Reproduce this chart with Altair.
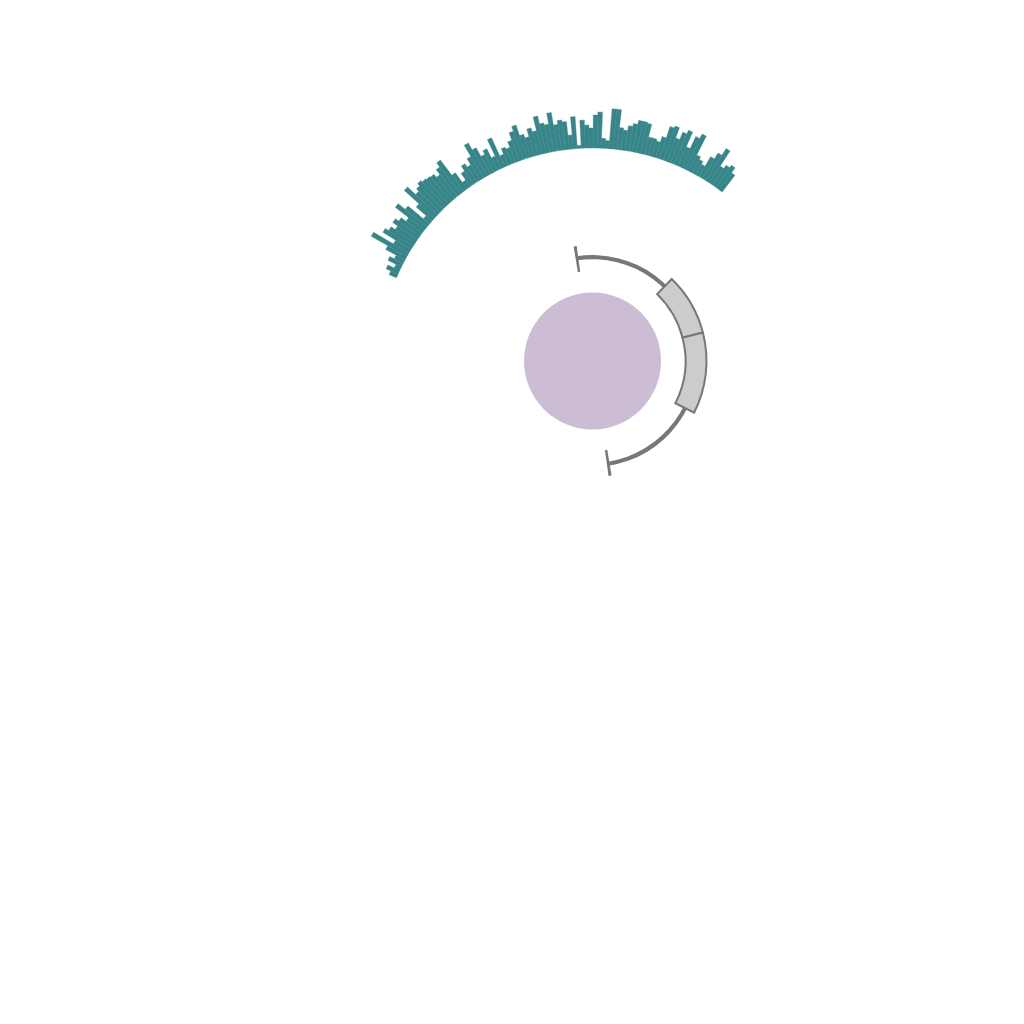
import math
import altair as alt
import pandas as pd

# ---- data ----
# histogram bar heights (pixel-ish units above the inner ring), ordered clockwise
hist_heights = [
    8, 13, 6, 15, 10, 22, 41, 18, 33, 29,
    24, 30, 26, 20, 37, 28, 8, 21, 41, 30,
    33, 36, 34, 33, 32, 28, 34, 39, 20, 8,
    16, 22, 18, 25, 38, 30, 20, 24, 14, 32,
    12, 18, 16, 22, 30, 35, 24, 20, 28, 24,
    38, 30, 28, 39, 26, 30, 28, 14, 32, 3,
    28, 23, 20, 33, 36, 10, 8, 40, 40, 22,
    20, 25, 28, 32, 32, 31, 18, 18, 16, 22,
    34, 36, 25, 33, 37, 21, 34, 39, 18, 15,
    12, 23, 30, 38, 20, 24, 27, 21,
]
hist_start_deg = -67.0
hist_end_deg = 37.5

# genomic features (angles in degrees clockwise from top)
line_start, line_end = -8.6, 171.3
box_starts = [44.0, 75.5]
box_ends = [75.5, 117.0]
tick_angles = [-8.6, 171.3]

CX, CY = 584.5, 353

N = len(hist_heights)
hist_df = pd.DataFrame({
    "i": list(range(N)),
    "i1": [k + 1 for k in range(N)],
    "h": hist_heights,
    "base": [0] * N,
})

deg = alt.Scale(type="linear", domain=[0, 360], range=[0, 2 * math.pi])
ident = alt.Scale(type="linear", domain=[0, 1000], range=[0, 1000])

hist = alt.Chart(hist_df).mark_arc(
    x=CX, y=CY, fill="#378588", stroke="#378588", strokeWidth=0.4
).encode(
    theta=alt.Theta("i:Q", scale=alt.Scale(type="linear", domain=[0, N],
                    range=[math.radians(hist_start_deg), math.radians(hist_end_deg)])),
    theta2="i1:Q",
    radius=alt.Radius("h:Q", scale=alt.Scale(type="linear", domain=[0, 41], range=[213, 254])),
    radius2="base:Q",
)

circle_df = pd.DataFrame({"t0": [0], "t1": [360], "r0": [0], "r1": [68.5]})
circle = alt.Chart(circle_df).mark_arc(x=CX, y=CY, fill="#ccbdd5").encode(
    theta=alt.Theta("t0:Q", scale=deg), theta2="t1:Q",
    radius=alt.Radius("r1:Q", scale=ident), radius2="r0:Q",
)

line_df = pd.DataFrame({"t0": [line_start], "t1": [line_end], "r0": [101.8], "r1": [106]})
line = alt.Chart(line_df).mark_arc(x=CX, y=CY, fill="#777777").encode(
    theta=alt.Theta("t0:Q", scale=deg), theta2="t1:Q",
    radius=alt.Radius("r1:Q", scale=ident), radius2="r0:Q",
)

tick_df = pd.DataFrame({
    "t0": [a - 0.75 for a in tick_angles],
    "t1": [a + 0.75 for a in tick_angles],
    "r0": [90, 90], "r1": [116, 116],
})
ticks = alt.Chart(tick_df).mark_arc(x=CX, y=CY, fill="#777777").encode(
    theta=alt.Theta("t0:Q", scale=deg), theta2="t1:Q",
    radius=alt.Radius("r1:Q", scale=ident), radius2="r0:Q",
)

box_df = pd.DataFrame({"t0": box_starts, "t1": box_ends, "r0": [93, 93], "r1": [114, 114]})
boxes = alt.Chart(box_df).mark_arc(
    x=CX, y=CY, fill="#cccccc", stroke="#777777", strokeWidth=2
).encode(
    theta=alt.Theta("t0:Q", scale=deg), theta2="t1:Q",
    radius=alt.Radius("r1:Q", scale=ident), radius2="r0:Q",
)

chart = alt.layer(circle, line, ticks, boxes, hist).resolve_scale(
    theta="independent", radius="independent"
).properties(
    width=1000, height=1000, autosize="none", padding=0
).configure_view(stroke=None)

chart.save("out.html", embed_options={"renderer": "svg", "actions": False})
